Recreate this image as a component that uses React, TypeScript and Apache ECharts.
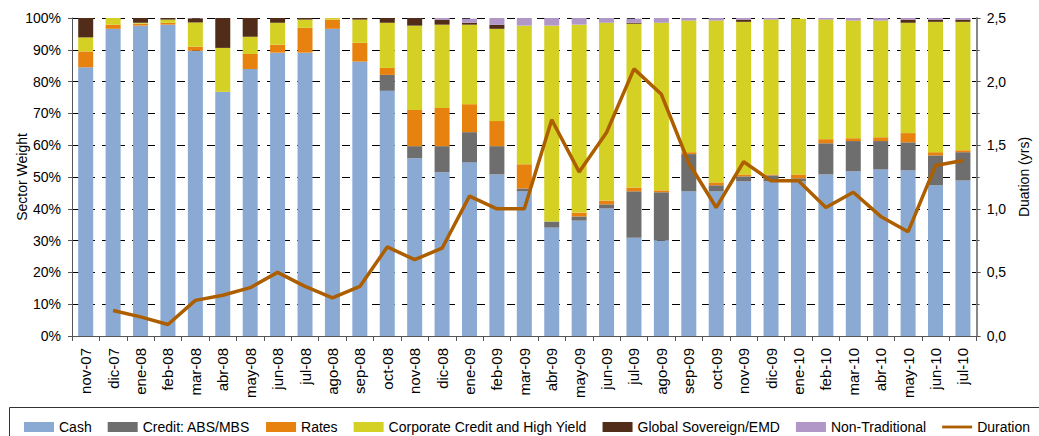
import React, { useEffect, useRef } from "react";
import * as echarts from "echarts";

const categories = ["nov-07","dic-07","ene-08","feb-08","mar-08","abr-08","may-08","jun-08","jul-08","ago-08","sep-08","oct-08","nov-08","dic-08","ene-09","feb-09","mar-09","abr-09","may-09","jun-09","jul-09","ago-09","sep-09","oct-09","nov-09","dic-09","ene-10","feb-10","mar-10","abr-10","may-10","jun-10","jul-10"];

const cash = [84.5,96.6,97.6,97.9,89.7,76.8,84.0,89.1,89.1,96.6,86.3,77.1,55.9,51.5,54.6,50.8,45.5,34.1,36.3,40.1,30.9,30.0,45.5,45.5,48.6,48.6,48.6,50.8,51.8,52.4,52.1,47.4,48.9];
const creditAbsMbs = [0,0,0,0,0,0,0,0,0,0,0,5.0,3.8,8.2,9.5,8.9,0.9,1.9,1.3,1.3,14.6,15.2,11.7,1.9,1.6,1.9,1.0,9.8,9.5,8.9,8.8,9.4,8.9];
const rates = [5.0,1.3,0.6,0.6,1.3,0,4.7,2.5,7.8,2.9,5.9,2.2,11.4,12.0,8.8,7.9,7.6,0,1.2,1.2,1.2,0.6,0.6,0.9,0.6,0.3,1.2,1.3,0.9,1.2,2.9,1.0,0.6];
const corporate = [4.4,2.1,0.3,1.0,7.6,13.8,5.4,6.9,2.6,1.0,7.3,14.2,26.5,26.2,25.0,29.0,43.6,61.6,59.1,55.9,51.5,52.7,41.4,50.9,48.0,48.7,49.0,37.6,37.0,36.7,34.7,41.0,40.4];
const globalSov = [6.2,0,2.0,1.3,1.3,9.4,5.9,2.5,0.7,0,0.5,1.5,2.6,1.6,0.6,1.3,0,0,0,0,0.3,0,0,0,0.7,0,0,0,0,0,1.0,0.7,0.7];
const nonTraditional = [0,0,0,0,0.3,0,0,0,0,0,0,0,0,0.7,1.3,2.3,2.4,2.4,2.1,1.5,1.3,1.5,1.0,1.0,0.7,0.7,0,0.7,1.0,1.0,0.7,0.7,0.7];
const duration = [null,0.2,0.15,0.09,0.28,0.32,0.38,0.5,0.39,0.3,0.39,0.7,0.6,0.69,1.1,1.0,1.0,1.7,1.29,1.6,2.1,1.9,1.36,1.01,1.37,1.22,1.22,1.01,1.13,0.94,0.82,1.34,1.38];

const FONT = "'Liberation Sans', Arial, sans-serif";

export default function App() {
  const ref = useRef<HTMLDivElement>(null);
  useEffect(() => {
    document.body.style.margin = "0";
    if (!ref.current) return;
    const chart = echarts.init(ref.current, null, { renderer: "svg" });
    const barSeries = (name: string, data: number[], color: string) => ({
      name,
      type: "bar",
      stack: "total",
      data,
      barWidth: 15,
      itemStyle: { color },
      emphasis: { disabled: true },
    });
    chart.setOption({
      animation: false,
      textStyle: { fontFamily: FONT },
      grid: { left: 72, right: 56, top: 18, bottom: 100 },
      xAxis: {
        type: "category",
        data: categories,
        axisLine: { lineStyle: { color: "#555", width: 1 } },
        axisTick: { show: true, length: 5, lineStyle: { color: "#555" } },
        axisLabel: { rotate: 90, margin: 12, fontSize: 15, color: "#000", fontFamily: FONT, interval: 0 },
      },
      yAxis: [
        {
          type: "value",
          min: 0,
          max: 100,
          interval: 10,
          name: "Sector Weight",
          nameLocation: "middle",
          nameRotate: 90,
          nameGap: 43,
          nameMoveOverlap: false,
          nameTextStyle: { fontSize: 14, color: "#000", fontFamily: FONT },
          axisLine: { show: true, lineStyle: { color: "#555" } },
          axisTick: { show: true, length: 4, lineStyle: { color: "#555" } },
          axisLabel: { formatter: "{value}%", fontSize: 14, color: "#000", margin: 11, fontFamily: FONT },
          splitLine: { show: true, lineStyle: { color: "#000", width: 1, type: [8, 7] } },
        },
        {
          type: "value",
          min: 0,
          max: 2.5,
          interval: 0.5,
          position: "right",
          name: "Duation (yrs)",
          nameLocation: "middle",
          nameRotate: 90,
          nameGap: 39,
          nameTextStyle: { fontSize: 14, color: "#000", fontFamily: FONT },
          axisLine: { show: true, lineStyle: { color: "#888", width: 2 } },
          axisTick: { show: true, length: 4, lineStyle: { color: "#555" } },
          minorTick: { show: true, splitNumber: 2, length: 3, lineStyle: { color: "#555" } },
          axisLabel: {
            fontSize: 14,
            color: "#000",
            margin: 10,
            fontFamily: FONT,
            formatter: (v: number) => v.toFixed(1).replace(".", ","),
          },
          splitLine: { show: false },
        },
      ],
      legend: {
        left: 19,
        top: 415,
        itemWidth: 30,
        itemHeight: 10,
        itemGap: 16,
        textStyle: { fontSize: 14, color: "#000", fontFamily: FONT },
        data: [
          { name: "Cash", icon: "rect" },
          { name: "Credit: ABS/MBS", icon: "rect" },
          { name: "Rates", icon: "rect" },
          { name: "Corporate Credit and High Yield", icon: "rect" },
          { name: "Global Sovereign/EMD", icon: "rect" },
          { name: "Non-Traditional", icon: "rect" },
          { name: "Duration", icon: "path://M0,0H32V3H0Z" },
        ],
      },
      graphic: [
        {
          type: "rect",
          shape: { x: 9.5, y: 407.5, width: 1040, height: 40 },
          style: { fill: "none", stroke: "#333", lineWidth: 1 },
          silent: true,
        },
      ],
      series: [
        barSeries("Cash", cash, "#8AAAD4"),
        barSeries("Credit: ABS/MBS", creditAbsMbs, "#6E6E6E"),
        barSeries("Rates", rates, "#E8820F"),
        barSeries("Corporate Credit and High Yield", corporate, "#D4D124"),
        barSeries("Global Sovereign/EMD", globalSov, "#512D19"),
        barSeries("Non-Traditional", nonTraditional, "#B097C7"),
        {
          name: "Duration",
          type: "line",
          yAxisIndex: 1,
          data: duration,
          showSymbol: false,
          symbol: "none",
          lineStyle: { color: "#AD5F00", width: 3.5 },
          itemStyle: { color: "#AD5F00" },
          z: 5,
          emphasis: { disabled: true },
        },
      ],
    });
    return () => chart.dispose();
  }, []);
  return <div ref={ref} style={{ width: 1039, height: 436 }} />;
}
